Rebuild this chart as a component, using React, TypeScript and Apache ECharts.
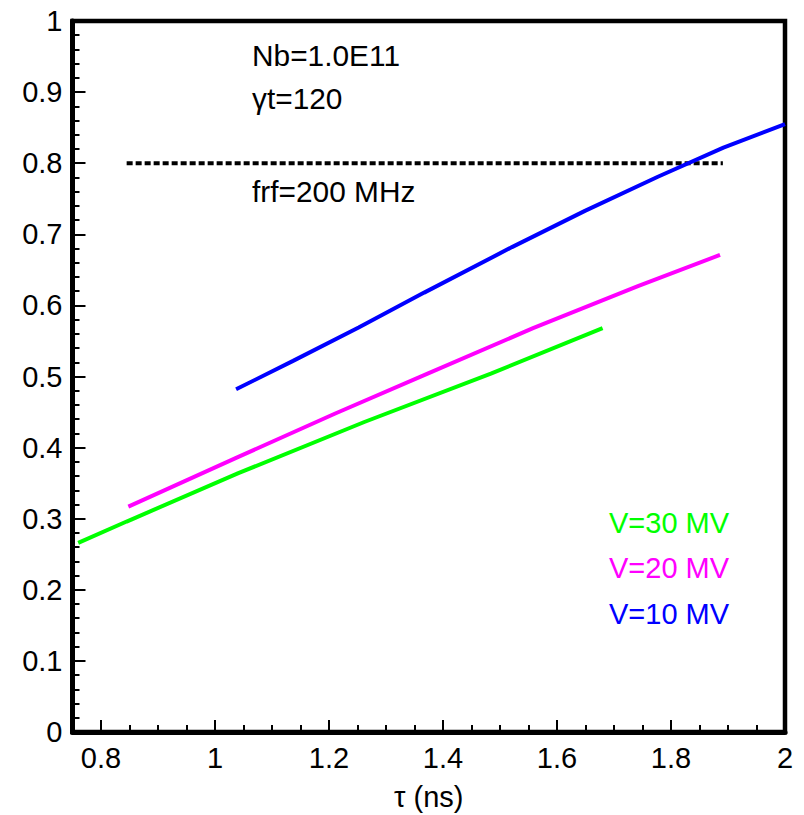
import React, { useEffect, useRef } from "react";
import * as echarts from "echarts";

// --- data ---
const v10X = [1.037, 1.137, 1.252, 1.367, 1.521, 1.649, 1.777, 1.892, 2.0];
const v10Y = [0.482, 0.522, 0.569, 0.618, 0.682, 0.733, 0.781, 0.822, 0.855];

const v20X = [0.848, 1.041, 1.211, 1.373, 1.558, 1.742, 1.886];
const v20Y = [0.317, 0.387, 0.448, 0.504, 0.568, 0.627, 0.671];

const v30X = [0.76, 0.845, 1.041, 1.262, 1.484, 1.68];
const v30Y = [0.266, 0.296, 0.364, 0.436, 0.504, 0.568];

const limitX = [0.845, 1.891];
const limitY = [0.8, 0.8];

const xMajorTicks = [0.8, 1, 1.2, 1.4, 1.6, 1.8, 2];
const xMinorTicks = [0.85, 0.9, 0.95, 1.05, 1.1, 1.15, 1.25, 1.3, 1.35, 1.45, 1.5, 1.55, 1.65, 1.7, 1.75, 1.85, 1.9, 1.95];

const seriesNames = ["V=10 MV", "V=20 MV", "V=30 MV"];
const seriesColors = ["#0000ff", "#ff00ff", "#00ff00"];
const legendOrder = ["V=30 MV", "V=20 MV", "V=10 MV"];

const notes = ["Nb=1.0E11", "\u03b3t=120", "frf=200 MHz"];

const FONT = "'Liberation Sans', Arial, Helvetica, sans-serif";
const FS = 29;

const zip = (xs: number[], ys: number[]) => xs.map((x, i) => [x, ys[i]]);

export default function App() {
  const ref = useRef<HTMLDivElement>(null);

  useEffect(() => {
    if (!ref.current) return;
    const chart = echarts.init(ref.current, null, { renderer: "svg" });
    const data = [zip(v10X, v10Y), zip(v20X, v20Y), zip(v30X, v30Y)];

    const noteStyle = (text: string) => ({
      text,
      fontSize: FS,
      fontFamily: FONT,
      fill: "#000",
      align: "left",
      verticalAlign: "middle",
    });

    const option: any = {
      animation: false,
      backgroundColor: "#ffffff",
      grid: {
        left: 72.5,
        right: 19,
        top: 21,
        bottom: 83,
        show: true,
        borderColor: "#000",
        borderWidth: 4.5,
        containLabel: false,
        outerBoundsMode: "none",
      },
      xAxis: [
        {
          type: "value",
          min: 0.75,
          max: 2,
          position: "bottom",
          name: "\u03c4 (ns)",
          nameLocation: "middle",
          nameGap: 50,
          nameTextStyle: { fontSize: FS, fontFamily: FONT, color: "#000" },
          axisLine: { show: true, onZero: false, lineStyle: { color: "#000", width: 5 } },
          axisTick: {
            show: true,
            inside: true,
            length: 12,
            customValues: xMajorTicks,
            lineStyle: { color: "#000", width: 2 },
          },
          axisLabel: {
            show: true,
            customValues: xMajorTicks,
            margin: 11,
            fontSize: FS,
            fontFamily: FONT,
            color: "#000",
            formatter: (v: number) => String(v),
          },
          splitLine: { show: false },
        },
        {
          type: "value",
          min: 0.75,
          max: 2,
          position: "bottom",
          axisLine: { show: false },
          axisTick: {
            show: true,
            inside: true,
            length: 7,
            customValues: xMinorTicks,
            lineStyle: { color: "#000", width: 2 },
          },
          axisLabel: { show: false },
          splitLine: { show: false },
        },
      ],
      yAxis: {
        type: "value",
        min: 0,
        max: 1,
        interval: 0.1,
        axisLine: { show: true, onZero: false, lineStyle: { color: "#000", width: 5 } },
        axisTick: { show: true, inside: true, length: 13, lineStyle: { color: "#000", width: 2 } },
        minorTick: { show: true, splitNumber: 5, length: 7, lineStyle: { color: "#000", width: 2 } },
        axisLabel: {
          margin: 10,
          fontSize: FS,
          fontFamily: FONT,
          color: "#000",
          formatter: (v: number) => String(Math.round(v * 10) / 10),
        },
        splitLine: { show: false },
        minorSplitLine: { show: false },
      },
      legend: {
        show: true,
        orient: "vertical",
        left: 599,
        top: 503,
        itemWidth: 0,
        itemHeight: 28,
        itemGap: 16.5,
        icon: "none",
        selectedMode: false,
        textStyle: { fontSize: FS, fontFamily: FONT, lineHeight: 28 },
        data: legendOrder.map((n) => ({
          name: n,
          icon: "none",
          textStyle: { color: seriesColors[seriesNames.indexOf(n)], fontSize: FS, fontFamily: FONT },
        })),
      },
      series: [
        ...seriesNames.map((n, i) => ({
          name: n,
          type: "line",
          data: data[i],
          showSymbol: false,
          symbol: "none",
          lineStyle: { color: seriesColors[i], width: 4 },
          itemStyle: { color: seriesColors[i] },
          z: 3,
        })),
        {
          name: "frf",
          type: "line",
          data: zip(limitX, limitY),
          showSymbol: false,
          symbol: "none",
          lineStyle: { color: "#000", width: 4, type: [6, 3] },
          z: 2,
        },
      ],
      graphic: [
        { type: "text", x: 252, y: 56, scaleX: 1.03, style: noteStyle(notes[0]) },
        { type: "text", x: 252, y: 99, scaleX: 1.03, style: noteStyle(notes[1]) },
        { type: "text", x: 252, y: 192, scaleX: 1.03, style: noteStyle(notes[2]) },
      ],
    };

    chart.setOption(option);
    return () => chart.dispose();
  }, []);

  return (
    <div
      ref={ref}
      style={{ position: "fixed", left: 0, top: 0, width: 804, height: 815, background: "#fff" }}
    />
  );
}
